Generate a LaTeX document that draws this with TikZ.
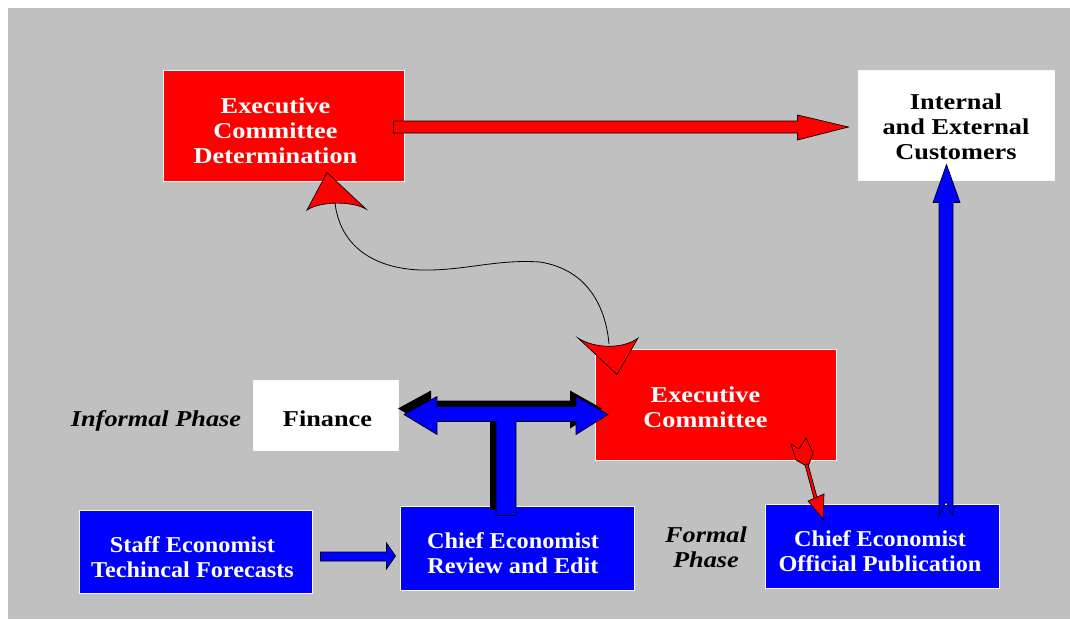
\documentclass[tikz,border=0pt]{standalone}
\usepackage{fontspec}
\setmainfont{Liberation Serif}
\newfontfamily\widefont[FakeStretch=1.16]{Liberation Serif}
\newfontfamily\tightfont[FakeStretch=1.07]{Liberation Serif}
\begin{document}
\definecolor{panel}{HTML}{C0C0C0}
\definecolor{pptred}{HTML}{FF0000}
\definecolor{pptblue}{HTML}{0000FF}
\begin{tikzpicture}[x=0.75pt,y=-0.75pt,
  txt/.style={font=\widefont\bfseries\fontsize{17}{18.75}\selectfont, align=center, inner sep=0pt},
  bluetxt/.style={font=\tightfont\bfseries\fontsize{17}{18.75}\selectfont, align=center, inner sep=0pt, text=white},
  box/.style={rectangle, draw=white!90!panel, line width=0.75pt, inner sep=0pt},
  redbox/.style={box, fill=pptred},
  bluebox/.style={box, fill=pptblue},
  whitebox/.style={box, fill=white},
  phase/.style={font=\widefont\bfseries\itshape\fontsize{17}{18.75}\selectfont, align=center},
  blockred/.style={fill=pptred, draw=black, line width=0.5pt, line join=miter},
  blockblue/.style={fill=pptblue, draw=black, line width=0.5pt, line join=miter},
  shadowfill/.style={fill=black},
  link/.style={draw=black, line width=0.6pt}]
\useasboundingbox (0,0) rectangle (1070,619);
\fill[white] (0,0) rectangle (1070,619);
\fill[panel] (8,8) rectangle (1070,619);

% boxes
\node[redbox, minimum width=241*0.75pt, minimum height=111*0.75pt] (ecd) at (283.5,125.5) {};
\node[whitebox, minimum width=196*0.75pt, minimum height=110*0.75pt] (cust) at (956,125) {};
\node[redbox, minimum width=241*0.75pt, minimum height=111*0.75pt] (ec) at (715.5,404.5) {};
\node[whitebox, minimum width=145*0.75pt, minimum height=70*0.75pt] (fin) at (325.5,415) {};
\node[bluebox, minimum width=233*0.75pt, minimum height=83*0.75pt] (staff) at (195.5,551.5) {};
\node[bluebox, minimum width=234*0.75pt, minimum height=84*0.75pt] (review) at (517,548) {};
\node[bluebox, minimum width=234*0.75pt, minimum height=84*0.75pt] (official) at (882,546) {};

% box texts
\node[txt, text=white] (ecd-t) at ([shift={(-8,5)}]ecd.center) {Executive\\Committee\\Determination};
\node[txt, text=black] (cust-t) at ([shift={(0,2)}]cust.center) {Internal\\and External\\Customers};
\node[txt, text=white] (ec-t) at ([shift={(-10,3)}]ec.center) {Executive\\Committee};
\node[txt, text=black] (fin-t) at ([shift={(2,4)}]fin.center) {Finance};
\node[bluetxt] (staff-t) at ([shift={(-3,6)}]staff.center) {Staff Economist\\Techincal Forecasts};
\node[bluetxt] (review-t) at ([shift={(-4,5)}]review.center) {Chief Economist\\Review and Edit};
\node[bluetxt] (official-t) at ([shift={(-2,5)}]official.center) {Chief Economist\\Official Publication};

% phase labels
\node[phase] (informal) at (156,421) {Informal Phase};
\node[phase] (formal) at (706,547) {Formal\\Phase};

% determination -> customers
\draw[blockred, shift={(ecd.east)}]
  (-11,-4.5) -- (393,-4.5) -- (393,-10.5) -- (444,1.5) -- (393,14.5) -- (393,7.5) -- (-11,7.5) -- cycle;

% publication -> customers
\draw[blockblue, shift={(official.north)}]
  (57,12) -- (57,-301) -- (51,-301) -- (64.5,-339) -- (78,-301) -- (71,-301) -- (71,12) -- (64,-2) -- cycle;

% staff -> review
\draw[blockblue, shift={(staff.east)}]
  (8,0.5) -- (74,0.5) -- (74,-8.5) -- (83,4.5) -- (74,17.5) -- (74,9.5) -- (8,9.5) -- cycle;

% review <-> finance / committee (T arrow with shadow)
\foreach \dx/\dy/\sty in {-6/-6/shadowfill, 0/0/blockblue}{
  \path[\sty, shift={(review.north)}, shift={(\dx,\dy)}]
    (-113,-91) -- (-80,-109) -- (-80,-99) -- (59,-99) -- (59,-109) -- (91,-91)
    -- (59,-71) -- (59,-84) -- (-1,-84) -- (-1,10) -- (-21,10) -- (-21,-84)
    -- (-80,-84) -- (-80,-71) -- cycle;
}

% determination <-> committee (curved link)
\draw[link] (335,203) .. controls (340,245) and (372,268) .. (420,270)
  .. controls (465,271) and (495,259) .. (540,262)
  .. controls (590,270) and (606,310) .. (609,344);
\draw[blockred] (ecd.south) ++(43.5,-9) -- (366,209) .. controls (352,201) and (321,201) .. (307,210) -- cycle;
\draw[blockred] (ec.north) ++(-98.5,26) -- (578,338) .. controls (595,349) and (624,349) .. (638,338) -- cycle;

% committee -> publication (small feathered arrow)
\draw[blockred] (791,444) -- (799,449) -- (806,438) -- (813,453) -- (808,467) -- (796,460) -- cycle;
\draw[blockred] (805,465) -- (815,502) -- (818,501) -- (808,464) -- cycle;
\draw[blockred] (808,501) -- (824,494) -- (823,519) -- cycle;
\end{tikzpicture}
\end{document}
